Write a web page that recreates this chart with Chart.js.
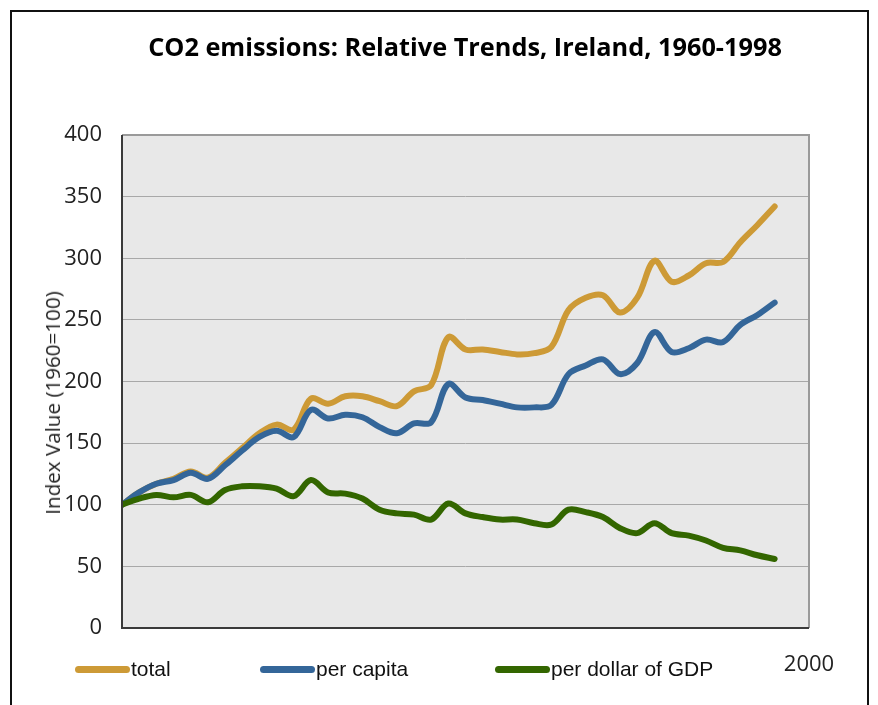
<!DOCTYPE html>
<html>
<head>
<meta charset="utf-8">
<script src="https://cdn.jsdelivr.net/npm/chart.js@4/dist/chart.umd.min.js"></script>
<style>
    html, body { margin: 0; padding: 0; background: #fff; }
    body { width: 878px; height: 705px; position: relative; overflow: hidden; }
    #frame { position: absolute; left: 10px; top: 10px; width: 859px; height: 740px; border: 2px solid #111; box-sizing: border-box; }
    #title { position: absolute; left: 0; width: 930px; top: 29px; text-align: center; font: bold 25.3px "Open Sans", sans-serif; color: #000; white-space: nowrap; }
    #ytitle { position: absolute; left: 52px; top: 403px; transform: translate(-50%, -50%) rotate(-90deg); font: 20.6px "Open Sans", sans-serif; color: #222; white-space: nowrap; }
    .leg { position: absolute; top: 658px; height: 22px; font: 21px "Liberation Sans", Arial, sans-serif; color: #111; line-height: 22px; white-space: nowrap; }
    .leg .sw { display: inline-block; width: 55px; height: 7px; border-radius: 4px; vertical-align: middle; margin-right: 1px; position: relative; top: -1px; }
    #wrap { position: absolute; left: 0; top: 0; width: 878px; height: 705px; }
</style>
</head>
<body>
<div id="frame"></div>
<div id="wrap"><canvas id="chartCO2"></canvas></div>
<div id="title">CO2 emissions: Relative Trends, Ireland, 1960-1998</div>
<div id="ytitle">Index Value (1960=100)</div>
<div id="legend"></div>
<script>
    // Index values, 1960 = 100
    const years = [1960, 1961, 1962, 1963, 1964, 1965, 1966, 1967, 1968, 1969,
        1970, 1971, 1972, 1973, 1974, 1975, 1976, 1977, 1978, 1979,
        1980, 1981, 1982, 1983, 1984, 1985, 1986, 1987, 1988, 1989,
        1990, 1991, 1992, 1993, 1994, 1995, 1996, 1997, 1998];

    const total = [100, 110, 117, 121, 127, 122, 134, 146, 158, 165,
        161, 186, 182, 188, 188, 184, 180, 192, 197, 236,
        226, 226, 224, 222, 223, 228, 258, 268, 270, 256,
        268, 298, 281, 286, 296, 297, 313, 327, 342];

    const perCapita = [100, 110, 117, 120, 126, 121, 132, 144, 155, 160,
        155, 177, 170, 173, 171, 163, 158, 166, 167, 198,
        187, 185, 182, 179, 179, 181, 206, 213, 218, 206,
        215, 240, 224, 227, 234, 232, 246, 254, 264];

    const perGdp = [100, 105, 108, 106, 108, 102, 112, 115, 115, 113,
        107, 120, 110, 109, 105, 96, 93, 92, 88, 101,
        93, 90, 88, 88, 85, 84, 96, 94, 90, 81,
        77, 85, 77, 75, 71, 65, 63, 59, 56];

    const seriesNames = ['total', 'per capita', 'per dollar of GDP'];
    const seriesColors = ['#cd9a36', '#346699', '#336600'];
    const xTickLabels = [2000];

    // legend (html)
    const legendLeft = [75, 260, 495];
    const legendEl = document.getElementById('legend');
    seriesNames.forEach((name, i) => {
        const item = document.createElement('div');
        item.className = 'leg';
        item.style.left = legendLeft[i] + 'px';
        item.innerHTML = '<span class="sw" style="background:' + seriesColors[i] + '"></span>' + name;
        legendEl.appendChild(item);
    });

    // plot background + border
    const plotFrame = {
        id: 'plotFrame',
        beforeDraw(chart) {
            const a = chart.chartArea;
            const c = chart.ctx;
            c.save();
            c.fillStyle = '#e8e8e8';
            c.fillRect(a.left, a.top, a.right - a.left, a.bottom - a.top);
            c.restore();
        },
        afterDraw(chart) {
            const a = chart.chartArea;
            const c = chart.ctx;
            c.save();
            c.lineWidth = 2;
            c.strokeStyle = '#9a9a9a';
            c.beginPath();
            c.moveTo(a.left, a.top);
            c.lineTo(a.right, a.top);
            c.lineTo(a.right, a.bottom);
            c.stroke();
            c.strokeStyle = '#3a3a3a';
            c.beginPath();
            c.moveTo(a.left, a.top);
            c.lineTo(a.left, a.bottom);
            c.lineTo(a.right, a.bottom);
            c.stroke();
            c.restore();
        }
    };

    function lineSet(label, data, color, order) {
        return {
            label: label,
            data: data,
            borderColor: color,
            backgroundColor: color,
            borderWidth: 6,
            borderCapStyle: 'round',
            borderJoinStyle: 'round',
            pointRadius: 0,
            tension: 0.35,
            fill: false,
            order: order
        };
    }

    const ctx = document.getElementById('chartCO2');
    new Chart(ctx, {
        type: 'line',
        data: {
            labels: years,
            datasets: [
                lineSet(seriesNames[0], total, seriesColors[0], 3),
                lineSet(seriesNames[1], perCapita, seriesColors[1], 2),
                lineSet(seriesNames[2], perGdp, seriesColors[2], 1)
            ]
        },
        options: {
            responsive: true,
            maintainAspectRatio: false,
            animation: false,
            layout: { padding: { left: 0, right: 69, top: 135, bottom: 0 } },
            plugins: {
                legend: { display: false },
                tooltip: { enabled: false },
                title: { display: false }
            },
            scales: {
                x: {
                    type: 'linear',
                    min: 1960,
                    max: 2000,
                    afterBuildTicks: axis => { axis.ticks = xTickLabels.map(v => ({ value: v })); },
                    afterFit: scale => { scale.height = 77; },
                    grid: { display: false, drawTicks: false },
                    border: { display: false },
                    ticks: {
                        color: '#222',
                        font: { family: 'Open Sans', size: 22 },
                        padding: 24,
                        maxRotation: 0,
                        autoSkip: false,
                        callback: value => String(value)
                    }
                },
                y: {
                    min: 0,
                    max: 400,
                    afterFit: scale => { scale.width = 122; },
                    grid: { color: '#a8a8a8', lineWidth: 1, drawTicks: false },
                    border: { display: false },
                    ticks: {
                        stepSize: 50,
                        color: '#222',
                        font: { family: 'Open Sans', size: 22 },
                        padding: 20
                    }
                }
            }
        },
        plugins: [plotFrame]
    });
</script>
</body>
</html>
